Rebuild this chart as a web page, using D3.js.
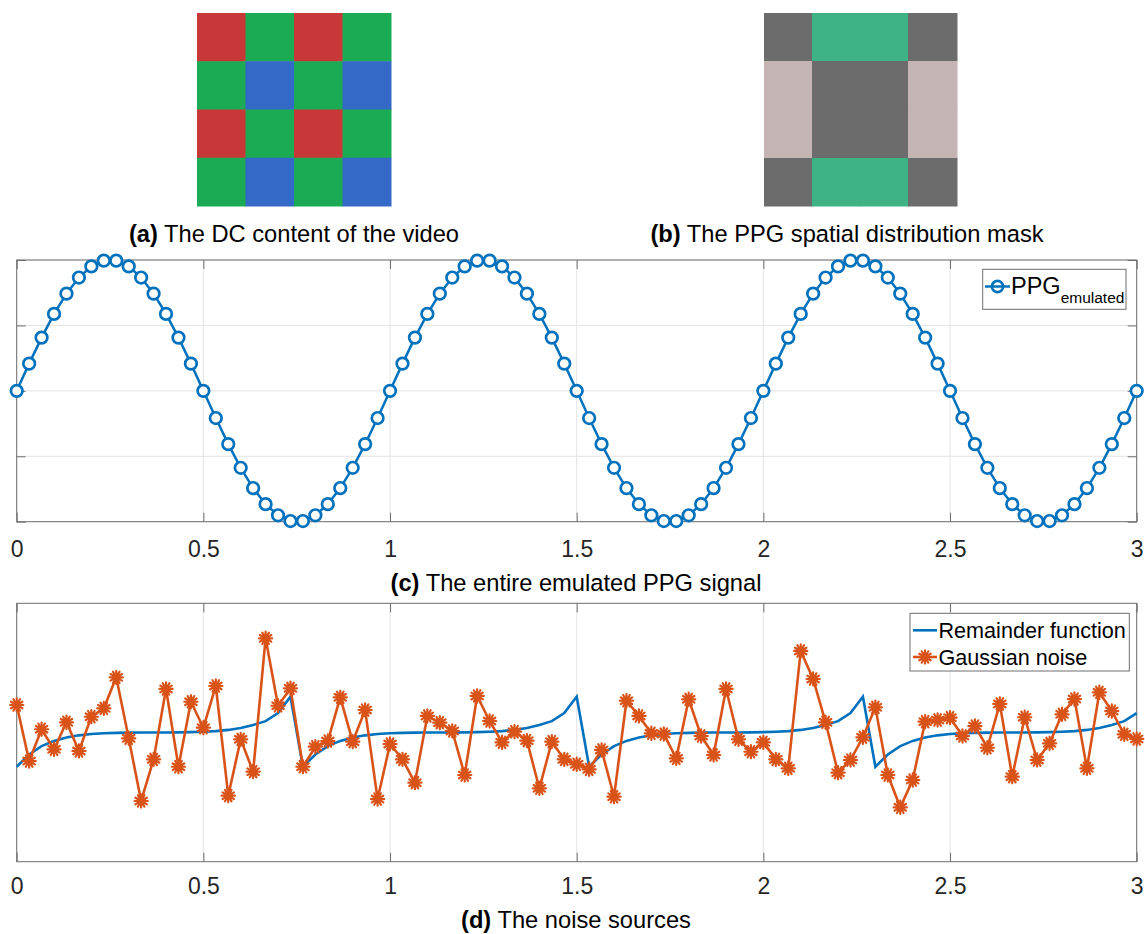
<!DOCTYPE html>
<html><head><meta charset="utf-8">
<script src="https://cdn.jsdelivr.net/npm/d3@7/dist/d3.min.js"></script>
<style>body{margin:0;background:#fff;} svg{display:block;font-family:"Liberation Sans",Arial,sans-serif;}</style>
</head><body>
<svg id="c" width="1145" height="934"></svg>
<script>
// ---------- data ----------
const bayerGrid = [
  ["R","G","R","G"],
  ["G","B","G","B"],
  ["R","G","R","G"],
  ["G","B","G","B"]];
const maskGrid = [
  ["D","T","T","D"],
  ["P","D","D","P"],
  ["P","D","D","P"],
  ["D","T","T","D"]];
const sampleRate = 30;
const xTicks = [0, 0.5, 1, 1.5, 2, 2.5, 3];
const xTickLabels = ["0","0.5","1","1.5","2","2.5","3"];
const yTicksC = [-1, -0.5, 0, 0.5, 1];
const ppgEmulated = [
 0,0.208,0.407,0.588,0.743,0.866,0.951,0.995,0.995,0.951,0.866,0.743,0.588,0.407,0.208,
 0,-0.208,-0.407,-0.588,-0.743,-0.866,-0.951,-0.995,-0.995,-0.951,-0.866,-0.743,-0.588,-0.407,-0.208,
 0,0.208,0.407,0.588,0.743,0.866,0.951,0.995,0.995,0.951,0.866,0.743,0.588,0.407,0.208,
 0,-0.208,-0.407,-0.588,-0.743,-0.866,-0.951,-0.995,-0.995,-0.951,-0.866,-0.743,-0.588,-0.407,-0.208,
 0,0.208,0.407,0.588,0.743,0.866,0.951,0.995,0.995,0.951,0.866,0.743,0.588,0.407,0.208,
 0,-0.208,-0.407,-0.588,-0.743,-0.866,-0.951,-0.995,-0.995,-0.951,-0.866,-0.743,-0.588,-0.407,-0.208,
 0];
const remainder = [
 -0.265,-0.17,-0.105,-0.065,-0.038,-0.022,-0.012,-0.006,-0.003,-0.001,0,0,0,0.001,0.003,0.006,0.011,0.02,0.035,0.058,0.088,0.15,0.277,
 -0.265,-0.17,-0.105,-0.065,-0.038,-0.022,-0.012,-0.006,-0.003,-0.001,0,0,0,0.001,0.003,0.006,0.011,0.02,0.035,0.058,0.088,0.15,0.277,
 -0.265,-0.17,-0.105,-0.065,-0.038,-0.022,-0.012,-0.006,-0.003,-0.001,0,0,0,0.001,0.003,0.006,0.011,0.02,0.035,0.058,0.088,0.15,0.277,
 -0.265,-0.17,-0.105,-0.065,-0.038,-0.022,-0.012,-0.006,-0.003,-0.001,0,0,0,0.001,0.003,0.006,0.011,0.02,0.035,0.058,0.088,0.15];
const gaussianNoise = [
 0.213,-0.221,0.025,-0.13,0.079,-0.143,0.122,0.187,0.427,-0.045,
 -0.53,-0.208,0.337,-0.265,0.238,0.037,0.36,-0.489,-0.053,-0.303,
 0.729,0.207,0.342,-0.265,-0.11,-0.066,0.272,-0.071,0.174,-0.515,
 -0.089,-0.208,-0.388,0.128,0.076,0.012,-0.329,0.283,0.089,-0.076,
 0.006,-0.063,-0.432,-0.071,-0.208,-0.246,-0.285,-0.135,-0.497,0.246,
 0.128,-0.006,-0.012,-0.2,0.257,-0.027,-0.174,0.337,-0.053,-0.149,
 -0.076,-0.208,-0.277,0.631,0.414,0.079,-0.311,-0.213,-0.037,0.195,
 -0.329,-0.579,-0.368,0.084,0.097,0.115,-0.027,0.05,-0.118,0.221,
 -0.342,0.118,-0.213,-0.084,0.141,0.259,-0.277,0.311,0.166,-0.014,
 -0.05];
const captions = ["The DC content of the video","The PPG spatial distribution mask","The entire emulated PPG signal","The noise sources"];
const captionTags = ["(a)","(b)","(c)","(d)"];

// ---------- styles ----------
const bayerColor = {R:"#c93838", G:"#1bab55", B:"#3469c8"};
const maskColor = {D:"#6c6c6c", T:"#3db386", P:"#c4b4b4"};
const blue = "#0072bd", orange = "#d95319";
const gridCol = "#e3e3e3", axCol = "#6e6e6e", txtCol = "#262626";
const FONT = '"Liberation Sans",Arial,Helvetica,sans-serif';

const svg = d3.select("#c");

// ---------- images ----------
(function(){
  const xb = d3.scaleBand().domain(d3.range(4)).range([197, 391]);
  const yb = d3.scaleBand().domain(d3.range(4)).range([13, 206]);
  bayerGrid.forEach((row, r) => row.forEach((c, k) => {
    svg.append("rect").attr("x", xb(k)).attr("y", yb(r))
      .attr("width", xb.bandwidth()+0.5).attr("height", yb.bandwidth()+0.5)
      .attr("fill", bayerColor[c]);
  }));
})();
(function(){
  const xs = d3.scaleLinear().domain([0,1,3,4]).range([764, 812, 908, 957]);
  const ys = d3.scaleLinear().domain([0,1,3,4]).range([13, 61, 158, 206]);
  maskGrid.forEach((row, r) => row.forEach((c, k) => {
    svg.append("rect").attr("x", xs(k)).attr("y", ys(r))
      .attr("width", xs(k+1)-xs(k)+0.5).attr("height", ys(r+1)-ys(r)+0.5)
      .attr("fill", maskColor[c]);
  }));
})();

function caption(i, cx, y) {
  const t = svg.append("text").attr("x", cx).attr("y", y).attr("text-anchor", "middle")
    .attr("font-size", 23.7).attr("fill", "#000").attr("font-family", FONT);
  t.append("tspan").attr("font-weight", "bold").text(captionTags[i]);
  t.append("tspan").text(" " + captions[i]);
}
caption(0, 294, 242);
caption(1, 847, 242);

// ---------- common axes ----------
const X0 = 16.7, X1 = 1136.7;
const time = ppgEmulated.map((_, i) => i / sampleRate);
const x = d3.scaleLinear().domain([0, 3]).range([X0, X1]);

function axesFrame(y, top, bottom, withY) {
  const g = svg.append("g");
  xTicks.forEach(v => g.append("line").attr("x1", x(v)).attr("x2", x(v))
    .attr("y1", top).attr("y2", bottom).attr("stroke", gridCol).attr("stroke-width", 1));
  if (withY) yTicksC.forEach(v => g.append("line").attr("x1", X0).attr("x2", X1)
    .attr("y1", y(v)).attr("y2", y(v)).attr("stroke", gridCol).attr("stroke-width", 1));
}
function axesBox(y, top, bottom, withY, labelY) {
  const g = svg.append("g");
  g.append("rect").attr("x", X0).attr("y", top).attr("width", X1 - X0).attr("height", bottom - top)
    .attr("fill", "none").attr("stroke", axCol).attr("stroke-width", 1);
  const ax = d3.axisBottom(x).tickValues(xTicks).tickSize(-9).tickFormat((d, i) => xTickLabels[i]);
  const ag = g.append("g").attr("transform", `translate(0,${bottom})`).call(ax);
  ag.select(".domain").remove();
  ag.selectAll(".tick line").attr("stroke", axCol);
  ag.selectAll(".tick text").attr("font-size", 23).attr("fill", txtCol)
    .attr("font-family", FONT).attr("dy", 0).attr("y", labelY - bottom);
  const axT = d3.axisTop(x).tickValues(xTicks).tickSize(-9).tickFormat("");
  const tg = g.append("g").attr("transform", `translate(0,${top})`).call(axT);
  tg.select(".domain").remove();
  tg.selectAll(".tick line").attr("stroke", axCol);
  if (withY) {
    const ay = d3.axisLeft(y).tickValues(yTicksC).tickSize(-9).tickFormat("");
    const yg = g.append("g").attr("transform", `translate(${X0},0)`).call(ay);
    yg.select(".domain").remove();
    yg.selectAll(".tick line").attr("stroke", axCol);
    const ay2 = d3.axisRight(y).tickValues(yTicksC).tickSize(-9).tickFormat("");
    const yg2 = g.append("g").attr("transform", `translate(${X1},0)`).call(ay2);
    yg2.select(".domain").remove();
    yg2.selectAll(".tick line").attr("stroke", axCol);
  }
}

// ---------- plot (c) ----------
const cTop = 260, cBot = 521.7;
const yc = d3.scaleLinear().domain([-1, 1]).range([cBot, cTop]);
axesFrame(yc, cTop, cBot, true);
axesBox(yc, cTop, cBot, true, 557);
const lineC = d3.line().x((d, i) => x(time[i])).y(d => yc(d));
svg.append("path").datum(ppgEmulated).attr("d", lineC).attr("fill", "none")
  .attr("stroke", blue).attr("stroke-width", 2.5);
svg.append("g").selectAll("circle").data(ppgEmulated).join("circle")
  .attr("cx", (d, i) => x(time[i])).attr("cy", d => yc(d)).attr("r", 5.8)
  .attr("fill", "#fff").attr("stroke", blue).attr("stroke-width", 2.7);
caption(2, 576, 591);

// legend c
(function(){
  const g = svg.append("g");
  g.append("rect").attr("x", 982.7).attr("y", 269.3).attr("width", 143.3).attr("height", 40)
    .attr("fill", "#fff").attr("stroke", axCol).attr("stroke-width", 1);
  g.append("line").attr("x1", 985).attr("x2", 1010).attr("y1", 286.5).attr("y2", 286.5)
    .attr("stroke", blue).attr("stroke-width", 2.5);
  g.append("circle").attr("cx", 997.5).attr("cy", 286.5).attr("r", 5.6)
    .attr("fill", "none").attr("stroke", blue).attr("stroke-width", 2.6);
  const t = g.append("text").attr("x", 1011).attr("y", 294).attr("font-size", 23.5)
    .attr("fill", "#000").attr("font-family", FONT);
  t.append("tspan").text("PPG");
  t.append("tspan").attr("font-size", 15.5).attr("dy", 8.5).text("emulated");
})();

// ---------- plot (d) ----------
const dTop = 603.3, dBot = 861.7;
const yd = d3.scaleLinear().domain([-1, 1]).range([dBot, dTop]);
axesFrame(yd, dTop, dBot, false);
axesBox(yd, dTop, dBot, false, 894);
const lineD = d3.line().x((d, i) => x(time[i])).y(d => yd(d));
svg.append("path").datum(remainder).attr("d", lineD).attr("fill", "none")
  .attr("stroke", blue).attr("stroke-width", 2.6);
svg.append("path").datum(gaussianNoise).attr("d", lineD).attr("fill", "none")
  .attr("stroke", orange).attr("stroke-width", 2.6);
function star(g, cx, cy) {
  const r = 6.6;
  const p = d3.path();
  for (let a = 0; a < 6; a++) {
    const ang = a * Math.PI / 6;
    p.moveTo(cx - r * Math.cos(ang), cy - r * Math.sin(ang));
    p.lineTo(cx + r * Math.cos(ang), cy + r * Math.sin(ang));
  }
  g.append("path").attr("d", p.toString()).attr("stroke", orange).attr("stroke-width", 2.2)
    .attr("stroke-linecap", "round").attr("fill", "none");
  g.append("circle").attr("cx", cx).attr("cy", cy).attr("r", 2.6).attr("fill", orange);
}
const sg = svg.append("g");
gaussianNoise.forEach((v, i) => star(sg, x(time[i]), yd(v)));
caption(3, 576, 928);

// legend d
(function(){
  const g = svg.append("g");
  g.append("rect").attr("x", 910).attr("y", 613.3).attr("width", 219.3).attr("height", 57.7)
    .attr("fill", "#fff").attr("stroke", axCol).attr("stroke-width", 1);
  g.append("line").attr("x1", 913).attr("x2", 937).attr("y1", 630.3).attr("y2", 630.3)
    .attr("stroke", blue).attr("stroke-width", 2.6);
  g.append("line").attr("x1", 913).attr("x2", 937).attr("y1", 657).attr("y2", 657)
    .attr("stroke", orange).attr("stroke-width", 2.6);
  star(g, 925, 657);
  g.append("text").attr("x", 938.5).attr("y", 638).attr("font-size", 21.6).attr("fill", "#000")
    .attr("font-family", FONT).text("Remainder function");
  g.append("text").attr("x", 938.5).attr("y", 665).attr("font-size", 21.6).attr("fill", "#000")
    .attr("font-family", FONT).text("Gaussian noise");
})();
</script>
</body></html>
